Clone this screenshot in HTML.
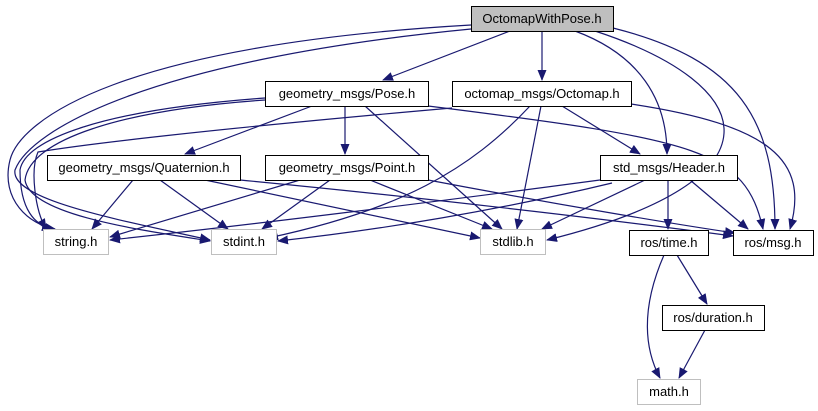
<!DOCTYPE html>
<html><head><meta charset="utf-8"><style>
html,body{margin:0;padding:0;background:#fff;width:818px;height:411px;overflow:hidden}
svg text{font-family:"Liberation Sans",sans-serif;font-size:13px;text-anchor:middle}
</style></head><body>
<svg width="818" height="411" viewBox="0 0 818 411" xmlns="http://www.w3.org/2000/svg">
<defs>
<marker id="a" markerUnits="userSpaceOnUse" markerWidth="11" markerHeight="9" refX="10" refY="4.5" orient="auto">
<path d="M0,0 L11,4.5 L0,9 z" fill="#191970"/>
</marker>
</defs>
<g fill="none" stroke="#191970" stroke-width="1.2" marker-end="url(#a)">
<!-- from OctomapWithPose -->
<path d="M510,31 L383,80"/>
<path d="M542,31 L542,80"/>
<path d="M575,31 C640,55 667,100 667,154"/>
<path d="M595,31 C760,85 790,180 547,240"/>
<path d="M613,28 C740,60 775,120 775,229"/>
<path d="M471,25 C120,45 20,120 10,160 C0,200 30,225 55,229"/>
<path d="M471,29 C150,60 30,130 15,170 C10,200 120,220 210,240"/>
<!-- from Pose -->
<path d="M265,98 C100,110 25,140 20,170 C20,210 35,225 52,229"/>
<path d="M265,100 C120,110 30,140 25,180 C30,215 140,230 210,241"/>
<path d="M312,106 L185,154"/>
<path d="M345,106 L345,154"/>
<path d="M365,106 L502,229"/>
<path d="M428,106 C700,140 745,150 763,229"/>
<!-- from Octomap -->
<path d="M452,108 C200,130 80,145 38,152 C30,170 35,210 46,229"/>
<path d="M530,106 C470,170 400,210 268,238"/>
<path d="M541,106 L517,229"/>
<path d="M562,106 L640,154"/>
<path d="M631,104 C770,125 810,160 790,229"/>
<!-- from Quaternion -->
<path d="M133,180 L92,229"/>
<path d="M160,180 L228,229"/>
<path d="M205,180 L480,238"/>
<path d="M240,180 C450,200 650,225 733,236"/>
<!-- from Point -->
<path d="M300,180 L110,237"/>
<path d="M330,180 L262,229"/>
<path d="M370,180 L492,229"/>
<path d="M428,180 C560,205 680,225 735,233"/>
<!-- from Header -->
<path d="M600,180 C450,200 250,225 110,240"/>
<path d="M612,183 C500,210 380,230 278,241"/>
<path d="M645,180 L542,229"/>
<path d="M668,180 L668,229"/>
<path d="M690,180 L748,229"/>
<!-- ros/time -->
<path d="M677,255 L707,304"/>
<path d="M664,255 C640,310 645,350 660,378"/>
<path d="M705,330 L679,378"/>
</g>
<g stroke-width="1">
<rect x="471.5" y="6.5" width="142" height="25" fill="#bfbfbf" stroke="#000"/>
<rect x="265.5" y="81.5" width="163" height="25" fill="#fff" stroke="#000"/>
<rect x="452.5" y="81.5" width="179" height="25" fill="#fff" stroke="#000"/>
<rect x="47.5" y="155.5" width="193" height="25" fill="#fff" stroke="#000"/>
<rect x="265.5" y="155.5" width="163" height="25" fill="#fff" stroke="#000"/>
<rect x="600.5" y="155.5" width="137" height="25" fill="#fff" stroke="#000"/>
<rect x="43.5" y="229.5" width="65" height="25" fill="#fff" stroke="#bfbfbf"/>
<rect x="211.5" y="229.5" width="65" height="25" fill="#fff" stroke="#bfbfbf"/>
<rect x="480.5" y="229.5" width="65" height="25" fill="#fff" stroke="#bfbfbf"/>
<rect x="629.5" y="230.5" width="79" height="25" fill="#fff" stroke="#000"/>
<rect x="733.5" y="230.5" width="80" height="25" fill="#fff" stroke="#000"/>
<rect x="662.5" y="305.5" width="102" height="25" fill="#fff" stroke="#000"/>
<rect x="637.5" y="379.5" width="63" height="25" fill="#fff" stroke="#bfbfbf"/>
</g>
<g fill="#000">
<text x="542" y="23">OctomapWithPose.h</text>
<text x="347" y="98">geometry_msgs/Pose.h</text>
<text x="542" y="98">octomap_msgs/Octomap.h</text>
<text x="144" y="172">geometry_msgs/Quaternion.h</text>
<text x="347" y="172">geometry_msgs/Point.h</text>
<text x="669" y="172">std_msgs/Header.h</text>
<text x="76" y="246">string.h</text>
<text x="244" y="246">stdint.h</text>
<text x="513" y="246">stdlib.h</text>
<text x="669" y="247">ros/time.h</text>
<text x="773" y="247">ros/msg.h</text>
<text x="713" y="322">ros/duration.h</text>
<text x="669" y="396">math.h</text>
</g>
</svg>
</body></html>
